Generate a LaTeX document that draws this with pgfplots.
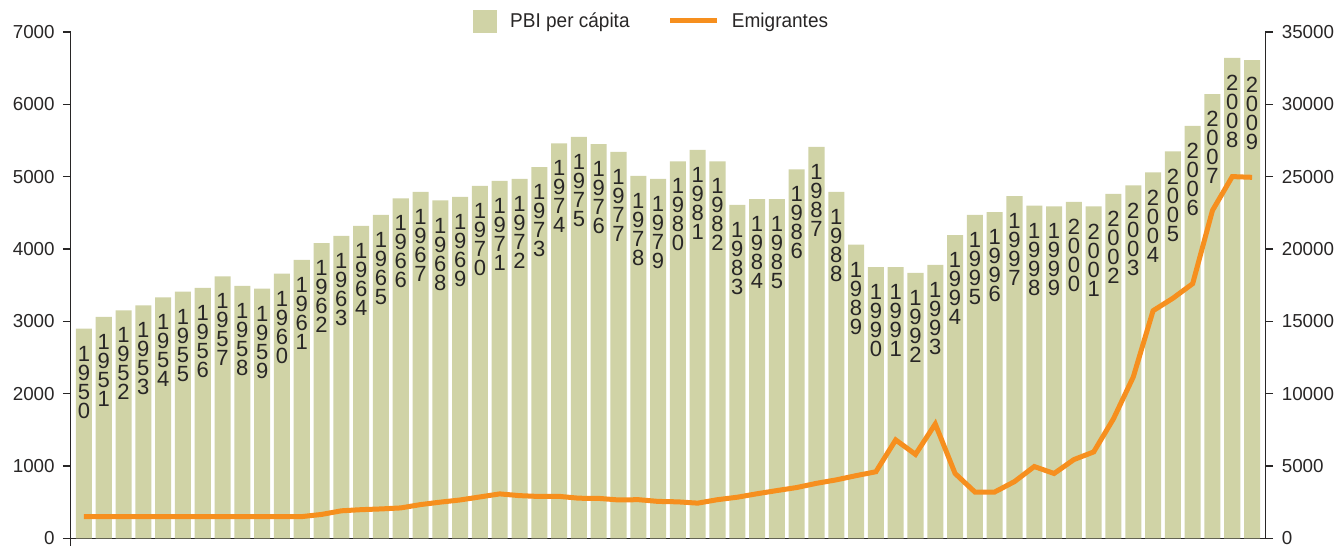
\documentclass[border=0pt]{standalone}
\usepackage{fontspec}
\setmainfont{Liberation Sans}
\newfontfamily\legfont[FakeStretch=0.95]{Liberation Sans}
\usepackage{pgfplots}
\pgfplotsset{compat=1.18}
\usepackage{pgfplotstable}

\definecolor{barc}{RGB}{208,211,166}
\definecolor{orng}{RGB}{246,143,30}
\definecolor{axc}{RGB}{40,38,38}

\pgfplotstableread{
year pbi emi
1950 2900 1500
1951 3060 1500
1952 3150 1500
1953 3220 1500
1954 3330 1500
1955 3410 1500
1956 3460 1500
1957 3620 1500
1958 3490 1500
1959 3450 1500
1960 3660 1500
1961 3850 1500
1962 4080 1650
1963 4180 1900
1964 4320 1980
1965 4470 2030
1966 4700 2100
1967 4790 2330
1968 4670 2500
1969 4720 2650
1970 4870 2860
1971 4940 3070
1972 4970 2950
1973 5130 2890
1974 5460 2900
1975 5550 2770
1976 5450 2760
1977 5340 2650
1978 5010 2670
1979 4970 2550
1980 5210 2520
1981 5370 2430
1982 5210 2670
1983 4610 2840
1984 4690 3080
1985 4690 3300
1986 5100 3510
1987 5410 3800
1988 4790 4040
1989 4060 4330
1990 3750 4600
1991 3750 6800
1992 3670 5800
1993 3780 7900
1994 4190 4480
1995 4470 3200
1996 4510 3200
1997 4730 3920
1998 4600 4960
1999 4590 4480
2000 4650 5440
2001 4590 5970
2002 4760 8260
2003 4880 11150
2004 5060 15730
2005 5350 16590
2006 5700 17600
2007 6140 22660
2008 6640 25000
2009 6610 24950
}\data

\newcommand\stackyear[4]{#1\\#2\\#3\\#4}

\pgfplotsset{
  common/.style={
    scale only axis, width=597.3pt, height=253.2pt,
    xmin=1949.33, xmax=2009.67, ymin=0,
    tick align=outside, major tick length=3.9pt,
    every tick/.style={axc, line width=0.6pt},
    axis line style={axc, line width=0.6pt},
    tick label style={font=\fontsize{9.4}{11}\selectfont, text=axc},
    /pgf/number format/assume math mode=true,
    /pgf/number format/1000 sep={},
    scaled y ticks=false,
    clip=false,
  }
}

\begin{document}
\begin{tikzpicture}
\useasboundingbox (-35.35pt,-4.35pt) rectangle (633.15pt,269.15pt);
\begin{axis}[common,
  ymax=7000,
  axis y line*=left, axis x line*=bottom,
  ytick={0,1000,...,7000},
  yticklabel style={xshift=-0.6pt},
  xtick={1949.33}, xticklabels={},
  ybar, bar width=0.81,
  point meta=explicit symbolic,
  nodes near coords={\edef\tmpyr{\pgfplotspointmeta}\expandafter\stackyear\tmpyr},
  every node near coord/.style={anchor=north, align=center, inner sep=0pt,
     yshift=-8.5pt, font=\fontsize{11}{9.5}\selectfont, text=axc},
]
\addplot[fill=barc, draw=none] table[x=year, y=pbi, meta=year]{\data};
\end{axis}
\begin{axis}[common,
  ymax=35000,
  axis y line*=right, axis x line=none,
  ytick={0,5000,...,35000},
  yticklabel style={xshift=0.8pt},
  legend columns=2,
  legend style={at={(0.4854,1.021)}, anchor=center, draw=none, fill=none,
    column sep=0pt, nodes={inner sep=0pt},
    font=\legfont\fontsize{10}{12}\selectfont, text=axc},
]
\addlegendimage{legend image code/.code={
   \fill[barc] (0pt,-5.6pt) rectangle (11.5pt,5.6pt);
   \path (18.2pt,0pt);}}
\addlegendentry{PBI per cápita}
\addplot[orng, line width=2.5pt, mark=none,
   legend image code/.code={
   \path (-19pt,0pt);
   \draw[orng, line width=2.5pt] (0pt,0.6pt) -- (23.5pt,0.6pt);
   \path (29.7pt,0pt);}]
   table[x=year, y=emi]{\data};
\addlegendentry{Emigrantes}
\end{axis}
\end{tikzpicture}
\end{document}
